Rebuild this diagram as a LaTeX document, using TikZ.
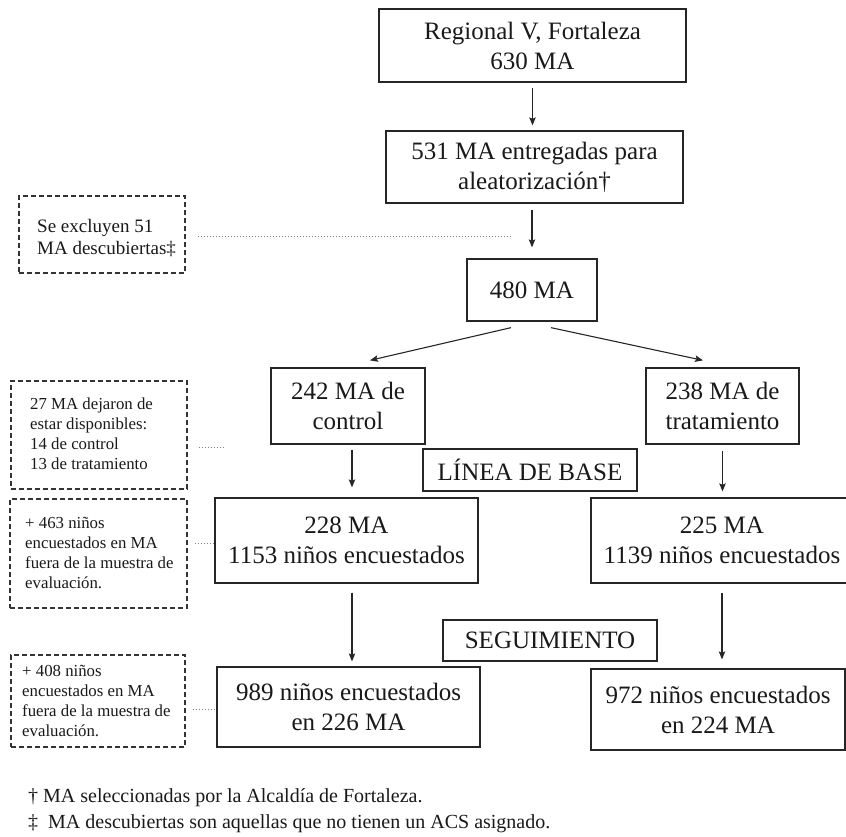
\documentclass[tikz,border=0pt]{standalone}
\usepackage{fontspec}
\setmainfont{Liberation Serif}
\usetikzlibrary{arrows.meta}
\begin{document}
\begin{tikzpicture}[x=1pt,y=-1pt,
  box/.style={draw=black!85, line width=1.3pt, inner sep=0pt, align=center,
    font=\fontsize{25}{30}\selectfont, text=black!90},
  dbox/.style={draw=black!80, line width=1.2pt, dash pattern=on 5pt off 3pt, inner sep=0pt},
  stxt/.style={inner sep=0pt, align=left, anchor=west, text=black!90,
    font=\fontsize{16.8}{20}\selectfont},
  arr/.style={-{Stealth[length=8pt,width=6.5pt,inset=1.5pt]}, line width=1.1pt, draw=black!85},
  dotl/.style={draw=black!50, line width=0.8pt, dash pattern=on 1.5pt off 1.5pt},
  note/.style={inner sep=0pt, anchor=base west, text=black!90,
    font=\fontsize{20}{26}\selectfont}
]
\useasboundingbox (0,0) rectangle (846,836);

% main column
\node[box, minimum width=307pt, minimum height=73pt] (reg) at (532.5,45.5) {Regional V, Fortaleza\\630 MA};
\node[box, minimum width=297pt, minimum height=72pt] (ent) at (534.5,167) {531 MA entregadas para\\aleatorización†};
\node[box, minimum width=130pt, minimum height=62pt] (m480) at (532,290) {480 MA};
\node[box, minimum width=154pt, minimum height=76pt] (ctl) at (348,406) {242 MA de\\control};
\node[box, minimum width=153pt, minimum height=76pt] (trt) at (722.5,406) {238 MA de\\tratamiento};
\node[box, minimum width=214pt, minimum height=42pt] (lb) at (530,470) {LÍNEA DE BASE};
\node[box, minimum width=263pt, minimum height=85pt] (b228) at (346.5,540.5) {228 MA\\1153 niños encuestados};
\node[box, minimum width=262pt, minimum height=85pt] (b225) at (722,540.5) {225 MA\\1139 niños encuestados};
\node[box, minimum width=214pt, minimum height=41pt] (seg) at (550,640.5) {SEGUIMIENTO};
\node[box, minimum width=263pt, minimum height=80pt] (b989) at (348.5,707) {989 niños encuestados\\en 226 MA};
\node[box, minimum width=254pt, minimum height=81pt] (b972) at (718,709.5) {972 niños encuestados\\en 224 MA};

% dashed side boxes
\node[dbox, minimum width=166pt, minimum height=77pt] (d1) at (102,234.5) {};
\node[stxt, font=\fontsize{19}{22}\selectfont] (d1t) at (37,238) {Se excluyen 51\\MA descubiertas‡};
\node[dbox, minimum width=176pt, minimum height=108pt] (d2) at (99,435) {};
\node[stxt] (d2t) at (30,434) {27 MA dejaron de\\estar disponibles:\\14 de control\\13 de tratamiento};
\node[dbox, minimum width=177pt, minimum height=109pt] (d3) at (98.5,553.5) {};
\node[stxt] (d3t) at (25,553) {+ 463 niños\\encuestados en MA\\fuera de la muestra de\\evaluación.};
\node[dbox, minimum width=174pt, minimum height=92pt] (d4) at (98,701) {};
\node[stxt] (d4t) at (22,701) {+ 408 niños\\encuestados en MA\\fuera de la muestra de\\evaluación.};

% dotted leaders
\coordinate (e1) at (512,236);
\coordinate (e2) at (223,447);
\coordinate (e3) at (213,543);
\coordinate (e4) at (210,709);
\draw[dotl, shorten <=12pt] (d1.east |- e1) -- (e1);
\draw[dotl, shorten <=11pt] (d2.east |- e2) -- (e2);
\draw[dotl, shorten <=7pt] (d3.east |- e3) -- (b228.west |- e3);
\draw[dotl, shorten <=7pt] (d4.east |- e4) -- (b989.west |- e4);

% arrows
\draw[arr, shorten <=5pt, shorten >=5pt] (reg.south) -- (reg.south |- ent.north);
\draw[arr, shorten <=6pt, shorten >=11pt] (m480.north |- ent.south) -- (m480.north);
\coordinate (s1) at ([xshift=-21pt,yshift=-6pt]m480.south);
\coordinate (s2) at ([xshift=19pt,yshift=-6pt]m480.south);
\coordinate (t1) at ([xshift=22pt,yshift=7pt]ctl.north);
\coordinate (t2) at ([xshift=-19.5pt,yshift=7pt]trt.north);
\draw[arr] (s1) -- (t1);
\draw[arr] (s2) -- (t2);
\draw[arr, shorten <=5pt, shorten >=10pt] ([xshift=4pt]ctl.south) -- ([xshift=4pt]ctl.south |- b228.north);
\draw[arr, shorten <=6pt, shorten >=6pt] (trt.south) -- (trt.south |- b225.north);
\draw[arr, shorten <=9pt, shorten >=5pt] ([xshift=5.5pt]b228.south) -- ([xshift=5.5pt]b228.south |- b989.north);
\draw[arr, shorten <=9pt, shorten >=9pt] (b225.south) -- (b225.south |- b972.north);

% footnotes
\node[note] (f1) at (28,802) {† MA seleccionadas por la Alcaldía de Fortaleza.};
\node[note] (f2) at (28,828) {‡~ MA descubiertas son aquellas que no tienen un ACS asignado.};
\end{tikzpicture}
\end{document}
